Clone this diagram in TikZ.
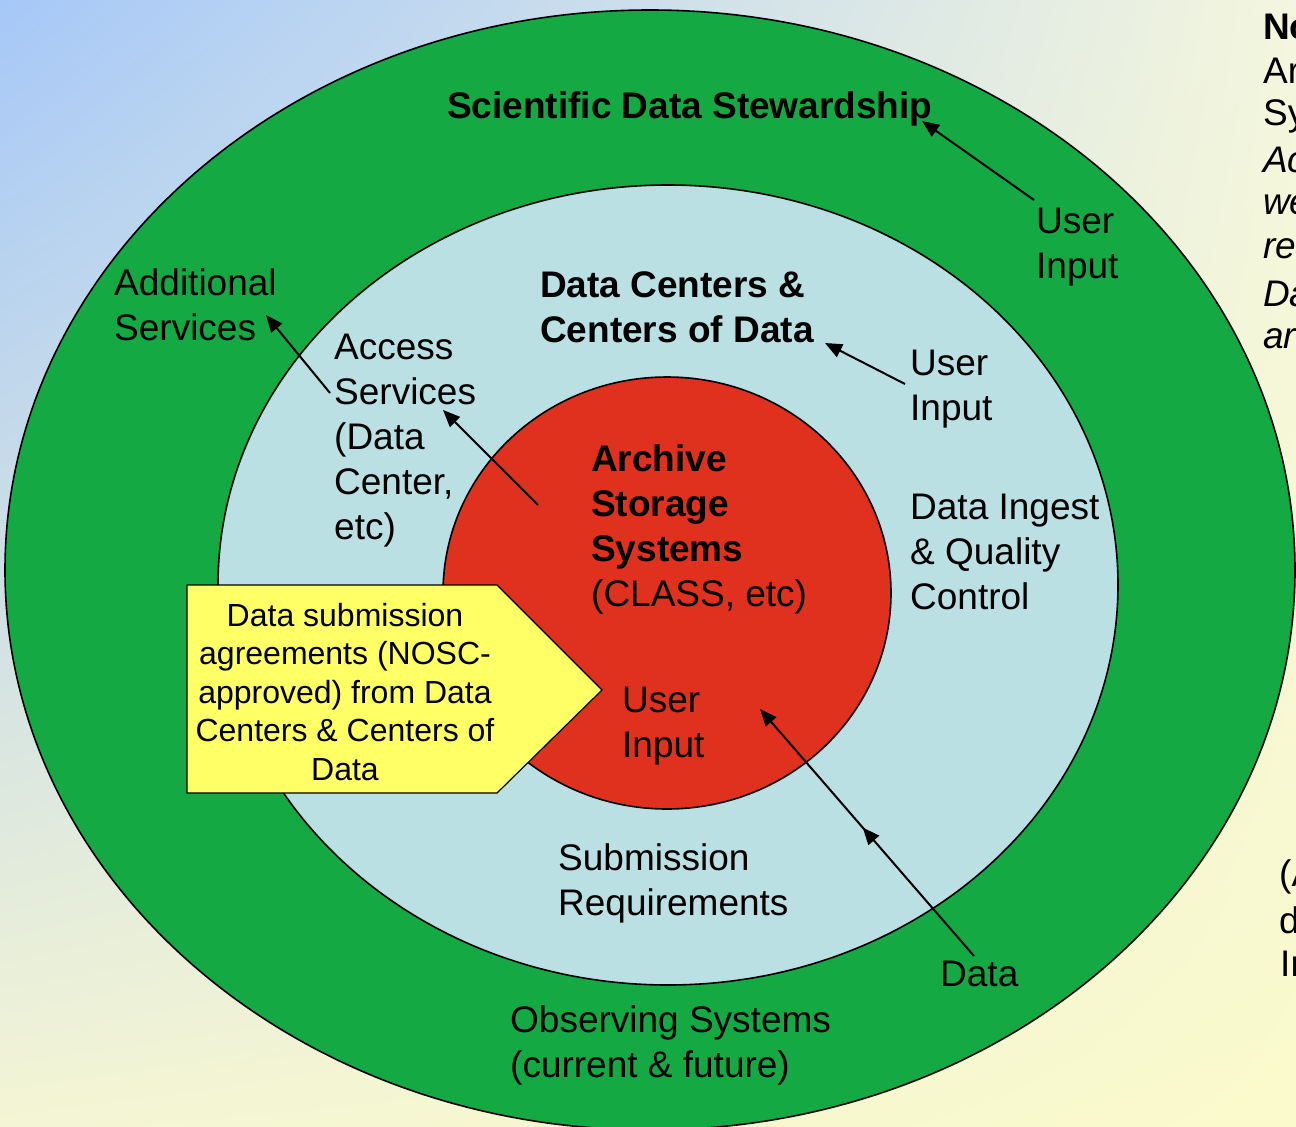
\documentclass[tikz,border=0pt]{standalone}
\usepackage{fontspec}
\setmainfont{Liberation Sans}
\usetikzlibrary{arrows.meta,decorations.markings,shadings}
\definecolor{bgTL}{RGB}{166,200,248}
\definecolor{bgTR}{RGB}{244,246,222}
\definecolor{bgBL}{RGB}{244,245,212}
\definecolor{bgBR}{RGB}{250,250,204}
\definecolor{ringgreen}{RGB}{20,169,67}
\definecolor{ringblue}{RGB}{186,224,228}
\definecolor{corered}{RGB}{224,48,30}
\definecolor{notey}{RGB}{255,255,102}
\tikzset{
  lbl/.style={font=\fontsize{37}{45}\selectfont, align=left, inner sep=0pt, anchor=west},
  blbl/.style={lbl, font=\fontsize{37}{45}\selectfont\bfseries},
  ilbl/.style={lbl, font=\fontsize{37}{45}\selectfont\itshape},
  ring/.style={draw=black, line width=1.6pt},
  conn/.style={line width=2pt, -{Triangle[length=17pt,width=14pt]}},
}
\begin{document}
\begin{tikzpicture}[x=1pt,y=-1pt]
\useasboundingbox (0,0) rectangle (1296,1127);
\clip (0,0) rectangle (1296,1127);
\shade[upper left=bgTL, upper right=bgTR, lower left=bgBL, lower right=bgBR] (0,0) rectangle (1296,1127);
% rings
\draw[ring, fill=ringgreen] (650,570) ellipse [x radius=645pt, y radius=560pt];
\draw[ring, fill=ringblue] (668,585) ellipse [x radius=450pt, y radius=400pt];
\draw[ring, fill=corered] (667,593) ellipse [x radius=224pt, y radius=216pt];
% yellow callout
\coordinate (y1) at (187,585);
\coordinate (y2) at (497,585);
\coordinate (y3) at (602,690);
\coordinate (y4) at (497,793);
\coordinate (y5) at (187,793);
\draw[fill=notey, line width=1.2pt] (y1) -- (y2) -- (y3) -- (y4) -- (y5) -- cycle;
\node[font=\fontsize{32}{38.5}\selectfont, align=center, inner sep=0pt] (sub) at (345,692)
  {Data submission\\agreements (NOSC-\\approved) from Data\\Centers \& Centers of\\Data};
% labels
\node[blbl] (sds) at (447,109) {Scientific Data Stewardship};
\node[lbl] (addl) at (114,305) {Additional\\Services};
\node[lbl] (ui1) at (1036,247) {User\\Input};
\node[blbl] (dc) at (540,307) {Data Centers \&\\Centers of Data};
\node[lbl] (acc) at (334,441) {Access\\Services\\(Data\\Center,\\etc)};
\node[lbl] (ui2) at (910,389) {User\\Input};
\node[lbl] (arch) at (591,529) {\textbf{Archive}\\\textbf{Storage}\\\textbf{Systems}\\(CLASS, etc)};
\node[lbl] (ingest) at (910,552) {Data Ingest\\\& Quality\\Control};
\node[lbl] (ui3) at (622,726) {User\\Input};
\node[lbl] (subreq) at (558,883) {Submission\\Requirements};
\node[lbl] (data) at (940,974) {Data};
\node[lbl] (obs) at (510,1045) {Observing Systems\\(current \& future)};
% clipped right-hand notes
\node[blbl] (n1) at (1263,27) {No};
\node[lbl] (n2) at (1263,71) {Ar};
\node[lbl] (n3) at (1263,116) {Sy};
\node[ilbl] (n4) at (1263,160) {Ac};
\node[ilbl] (n5) at (1263,205) {we};
\node[ilbl] (n6) at (1263,249) {re};
\node[ilbl] (n7) at (1263,294) {Da};
\node[ilbl] (n8) at (1263,339) {ar};
\node[lbl] (m1) at (1279,877) {(A};
\node[lbl] (m2) at (1279,920) {d};
\node[lbl] (m3) at (1280,964) {In};
% connectors
\coordinate (a1s) at (1034,200);  \coordinate (a1e) at (922,121);
\coordinate (a2s) at (330,393);   \coordinate (a2e) at (266,315);
\coordinate (a3s) at (538,505);   \coordinate (a3e) at (443,410);
\coordinate (a4s) at (905,384);   \coordinate (a4e) at (825,343);
\coordinate (a5s) at (974,956);   \coordinate (a5e) at (760,709);
\draw[conn] (a1s) -- (a1e);
\draw[conn] (a2s) -- (a2e);
\draw[conn] (a3s) -- (a3e);
\draw[conn] (a4s) -- (a4e);
\draw[conn, postaction={decorate}, decoration={markings, mark=at position 0.52 with {\arrow{Triangle[length=17pt,width=14pt]}}}] (a5s) -- (a5e);
\end{tikzpicture}
\end{document}
